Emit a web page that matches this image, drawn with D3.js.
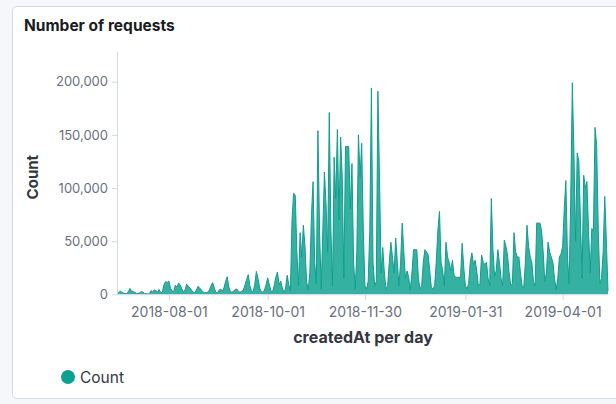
<!DOCTYPE html>
<html>
<head>
<meta charset="utf-8">
<script src="https://cdn.jsdelivr.net/npm/d3@7"></script>
<style>
  html, body { margin: 0; padding: 0; background: #f5f7fa; }
  svg { display: block; font-family: Inter, "Noto Sans", sans-serif; }
</style>
</head>
<body>
<svg id="chart" width="616" height="404"></svg>
<script>
// Daily request counts, one value per day starting at firstDay
const firstDay = "2018-06-30";
const lastDay = "2019-04-29";
const counts = [
  2500, 1500, 3000, 2000, 1000, 800, 600, 2500, 5500, 3000,
  2500, 2000, 800, 600, 1500, 2500, 2000, 800, 500, 400,
  500, 3500, 2500, 4000, 3500, 2000, 4500, 1500, 2000, 9000,
  12000, 11000, 12500, 6000, 3000, 2500, 8500, 7000, 10500, 9000,
  5000, 2500, 4000, 9500, 7500, 6000, 4000, 2000, 1500, 4000,
  7500, 6000, 4000, 2500, 1500, 1500, 2000, 4000, 8000, 11000,
  6000, 2000, 1500, 4000, 5000, 3000, 6000, 12000, 16500, 7000,
  2500, 2000, 3000, 4500, 5000, 2500, 2000, 3000, 4000, 9000,
  14000, 18500, 8000, 3000, 2500, 9000, 21500, 15000, 6000, 2500,
  2000, 4000, 9000, 15500, 9000, 3000, 2500, 8000, 16000, 21000,
  9000, 12500, 6000, 2000, 5000, 18000, 9000, 3000, 70000, 95000,
  93000, 40000, 8000, 58000, 35000, 65000, 45000, 12000, 4000, 20000,
  75000, 106000, 30000, 10000, 154000, 60000, 5000, 60000, 115000, 85000,
  40000, 171000, 60000, 8000, 129000, 90000, 155000, 70000, 148000, 110000,
  15000, 139000, 139000, 139000, 80000, 123000, 30000, 5000, 40000, 150000,
  110000, 142000, 60000, 8000, 5000, 12000, 60000, 194000, 30000, 8000,
  12000, 191000, 110000, 20000, 44000, 20000, 5000, 8000, 30000, 49000,
  35000, 20000, 53000, 30000, 8000, 30000, 67000, 40000, 15000, 22000,
  16000, 4000, 20000, 42000, 42000, 42000, 15000, 5000, 8000, 30000,
  42000, 40000, 37000, 22000, 6000, 5000, 8000, 30000, 60000, 78000,
  30000, 22000, 8000, 49000, 35000, 30000, 22000, 32000, 18000, 16000,
  16000, 16000, 16000, 48000, 25000, 8000, 5000, 10000, 30000, 39000,
  28000, 32000, 22000, 8000, 10000, 37000, 30000, 28000, 30000, 15000,
  8000, 90000, 42000, 17000, 22000, 42000, 30000, 15000, 8000, 51000,
  45000, 37000, 20000, 8000, 10000, 58000, 40000, 35000, 35000, 20000,
  8000, 6000, 30000, 65000, 45000, 35000, 30000, 12000, 8000, 67000,
  67000, 67000, 60000, 40000, 12000, 20000, 49000, 40000, 35000, 30000,
  15000, 4000, 15000, 35000, 38000, 45000, 80000, 107000, 35000, 10000,
  90000, 199000, 130000, 50000, 133000, 125000, 70000, 15000, 112000, 100000,
  106000, 60000, 20000, 62000, 60000, 157000, 140000, 60000, 10000, 15000,
  40000, 92000, 50000, 3000
];
const xTickDates = ["2018-08-01", "2018-10-01", "2018-11-30", "2019-01-31", "2019-04-01"];
const yTickValues = [0, 50000, 100000, 150000, 200000];

const title = "Number of requests";
const yTitle = "Count";
const xTitle = "createdAt per day";
const seriesName = "Count";
const seriesColor = "#1fa898";

const parse = d3.utcParse("%Y-%m-%d");
const start = parse(firstDay);
const data = counts.map((v, i) => ({ date: d3.utcDay.offset(start, i), value: v }));

const svg = d3.select("#chart");

// Panel
svg.append("rect")
  .attr("x", 12.5).attr("y", 6.5)
  .attr("width", 640).attr("height", 392)
  .attr("rx", 4)
  .attr("fill", "#ffffff")
  .attr("stroke", "#d3dae6");

svg.append("text")
  .attr("x", 24).attr("y", 31)
  .attr("font-size", 15.5).attr("font-weight", 700)
  .attr("fill", "#1a1c21")
  .text(title);

const plot = { left: 117, right: 608, top: 52, bottom: 294.3 };

const x = d3.scaleUtc()
  .domain([start, parse(lastDay)])
  .range([plot.left, plot.right]);

const y = d3.scaleLinear()
  .domain([0, 200000])
  .range([plot.bottom, 81.7]);

// Area
const area = d3.area()
  .x(d => x(d.date))
  .y0(plot.bottom)
  .y1(d => y(d.value));

const line = d3.line()
  .x(d => x(d.date))
  .y(d => y(d.value));

svg.append("path")
  .datum(data)
  .attr("d", area)
  .attr("fill", seriesColor)
  .attr("fill-opacity", 0.9);

svg.append("path")
  .datum(data)
  .attr("d", line)
  .attr("fill", "none")
  .attr("stroke", "#0f9e8e")
  .attr("stroke-width", 1);

// Y axis
const yAxis = d3.axisLeft(y)
  .tickValues(yTickValues)
  .tickFormat(d3.format(","))
  .tickSize(5)
  .tickPadding(4);

const gy = svg.append("g")
  .attr("transform", `translate(${plot.left},0)`)
  .call(yAxis);
gy.select(".domain").remove();
gy.append("line")
  .attr("x1", 0.5).attr("x2", 0.5)
  .attr("y1", plot.top).attr("y2", plot.bottom)
  .attr("stroke", "#d3dae6");
gy.selectAll(".tick line").attr("stroke", "#d3dae6");
gy.selectAll(".tick text")
  .attr("fill", "#69707d")
  .attr("font-size", 13)
  .attr("font-family", "Inter, sans-serif");

// X axis
const xAxis = d3.axisBottom(x)
  .tickValues(xTickDates.map(parse))
  .tickFormat(d3.utcFormat("%Y-%m-%d"))
  .tickSize(6)
  .tickPadding(7);

const gx = svg.append("g")
  .attr("transform", `translate(0,${plot.bottom})`)
  .call(xAxis);
gx.select(".domain")
  .attr("d", `M${plot.left},0.5H${plot.right}`)
  .attr("stroke", "#d3dae6");
gx.selectAll(".tick line").attr("stroke", "#d3dae6");
gx.selectAll(".tick text")
  .attr("fill", "#69707d")
  .attr("font-size", 14)
  .attr("font-family", "Inter, sans-serif");

// Axis titles
svg.append("text")
  .attr("transform", `translate(38,${(plot.bottom + 60) / 2}) rotate(-90)`)
  .attr("text-anchor", "middle")
  .attr("font-size", 15).attr("font-weight", 700)
  .attr("fill", "#343741")
  .text(yTitle);

svg.append("text")
  .attr("x", 363)
  .attr("y", 343)
  .attr("text-anchor", "middle")
  .attr("font-size", 16).attr("font-weight", 700)
  .attr("fill", "#343741")
  .text(xTitle);

// Legend
const legend = svg.append("g").attr("transform", "translate(68,377)");
legend.append("circle")
  .attr("r", 7)
  .attr("fill", "#0fa090");
legend.append("text")
  .attr("x", 12).attr("y", 5.5)
  .attr("font-size", 15.5)
  .attr("fill", "#343741")
  .text(seriesName);
</script>
</body>
</html>
